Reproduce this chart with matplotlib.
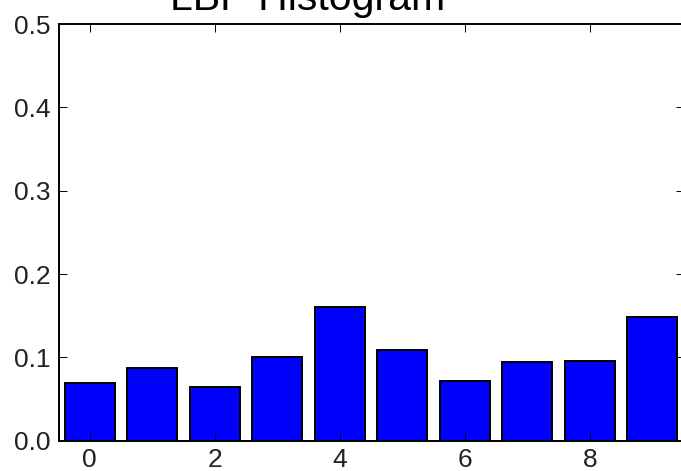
import matplotlib
matplotlib.use("Agg")
import matplotlib.pyplot as plt

bins = list(range(10))
values = [0.069, 0.087, 0.064, 0.100, 0.161, 0.109, 0.0714, 0.094, 0.0957, 0.149]
xticks = [0, 2, 4, 6, 8]
yticks = [0.0, 0.1, 0.2, 0.3, 0.4, 0.5]
title = "LBP Histogram"

plt.rcParams['font.family'] = ['Liberation Sans', 'DejaVu Sans']

fig = plt.figure(figsize=(6.81, 4.71), dpi=100)
ax = fig.add_axes([58.5/681, (471-440.7)/471, (683.75-58.5)/681, (440.7-24)/471])
ax.bar(bins, values, width=0.8, align='center', color='#0000ff',
       edgecolor='black', linewidth=1.4)
ax.set_xlim(-0.5, 9.5)
ax.set_ylim(0, 0.5)
ax.set_xticks(xticks)
ax.set_yticks(yticks)
ax.set_yticklabels([f"{v:.1f}" for v in yticks])
ax.tick_params(direction='in', top=True, right=True, length=5.8, width=0.7,
               labelsize=19, pad=5.5, colors='black', labelcolor='#222222')
for s in ax.spines.values():
    s.set_linewidth(1.4)
fig.text(307.5/681, 1-9.5/471, title, ha='center', va='baseline', fontsize=29.5)
fig.savefig("out.png", dpi=100)
